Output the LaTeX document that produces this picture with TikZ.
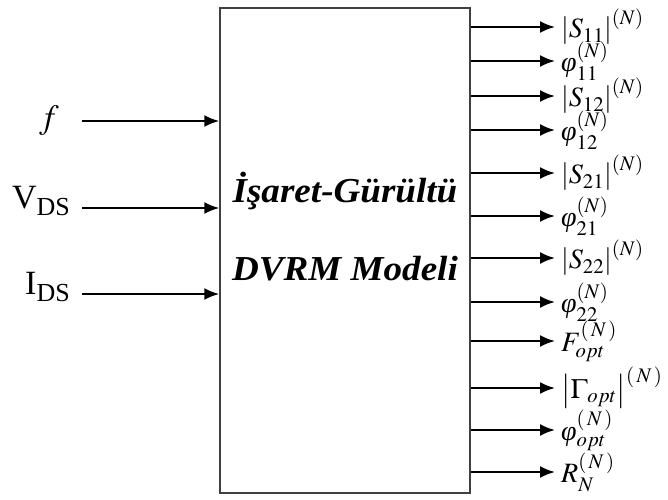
\documentclass[tikz,border=0pt]{standalone}
\usepackage{mathptmx}
\usepackage[no-math]{fontspec}
\setmainfont{Liberation Serif}
\newfontfamily\namefont[FakeStretch=1.06]{Liberation Serif}
\newcommand{\phs}{\mbox{\itshape φ}}
\usetikzlibrary{arrows.meta}
\tikzset{
  inlabel/.style={inner sep=0pt, font=\fontsize{34}{34}\selectfont},
  outlabel/.style={anchor=west, inner sep=0pt, font=\fontsize{28}{28}\selectfont},
  wire/.style={->, line width=2.1pt},
}
\begin{document}
\begin{tikzpicture}[x=1pt, y=-1pt, >={Latex[length=15pt,width=12pt]}]
\useasboundingbox (0,0) rectangle (668,499);
% model block
\node[draw=black!75, line width=1.4pt, minimum width=250pt, minimum height=485pt, inner sep=0pt] (model) at (345,250.5) {};
\node[font=\namefont\fontsize{35}{35}\selectfont\bfseries\itshape, align=center] (name) at (345,227)
     {İşaret-Gürültü\\[43pt]DVRM Modeli};
% inputs
\node[inlabel, anchor=east] (f) at (59,121) {$f$};
\node[inlabel, anchor=base east] (vds) at (70,208) {V\raisebox{-7pt}{\fontsize{26}{26}\selectfont DS}};
\node[inlabel, anchor=base east] (ids) at (70,294) {I\raisebox{-7pt}{\fontsize{26}{26}\selectfont DS}};
\draw[wire] ([xshift=23pt]f.east) -- (f.east -| model.west);
\draw[wire] ([xshift=12pt]vds.base east) -- (vds.base east -| model.west);
\draw[wire] ([xshift=12pt]ids.base east) -- (ids.base east -| model.west);
% outputs
\node[outlabel] (s11) at (561,27) {$\left|S_{11}\right|^{(N)}$};
\node[outlabel] (p11) at (561,61) {$\phs_{11}^{(N)}$};
\node[outlabel] (s12) at (561,96) {$\left|S_{12}\right|^{(N)}$};
\node[outlabel] (p12) at (561,130) {$\phs_{12}^{(N)}$};
\node[outlabel] (s21) at (561,173) {$\left|S_{21}\right|^{(N)}$};
\node[outlabel] (p21) at (561,216) {$\phs_{21}^{(N)}$};
\node[outlabel] (s22) at (561,258) {$\left|S_{22}\right|^{(N)}$};
\node[outlabel] (p22) at (561,302) {$\phs_{22}^{(N)}$};
\node[outlabel] (fopt) at (561,341) {$F_{opt}^{(\,N\,)}$};
\node[outlabel] (gopt) at (561,388) {$\left|\Gamma_{opt}\right|^{(\,N\,)}$};
\node[outlabel] (popt) at (561,430) {$\phs_{opt}^{(\,N\,)}$};
\node[outlabel] (rn) at (561,472) {$R_{N}^{(\,N\,)}$};
\foreach \o in {s11,p11,s12,p12,s21,p21,s22,p22,fopt,gopt,popt,rn}
  \draw[wire] (\o.west -| model.east) -- ([xshift=-6pt]\o.west);
\end{tikzpicture}
\end{document}
